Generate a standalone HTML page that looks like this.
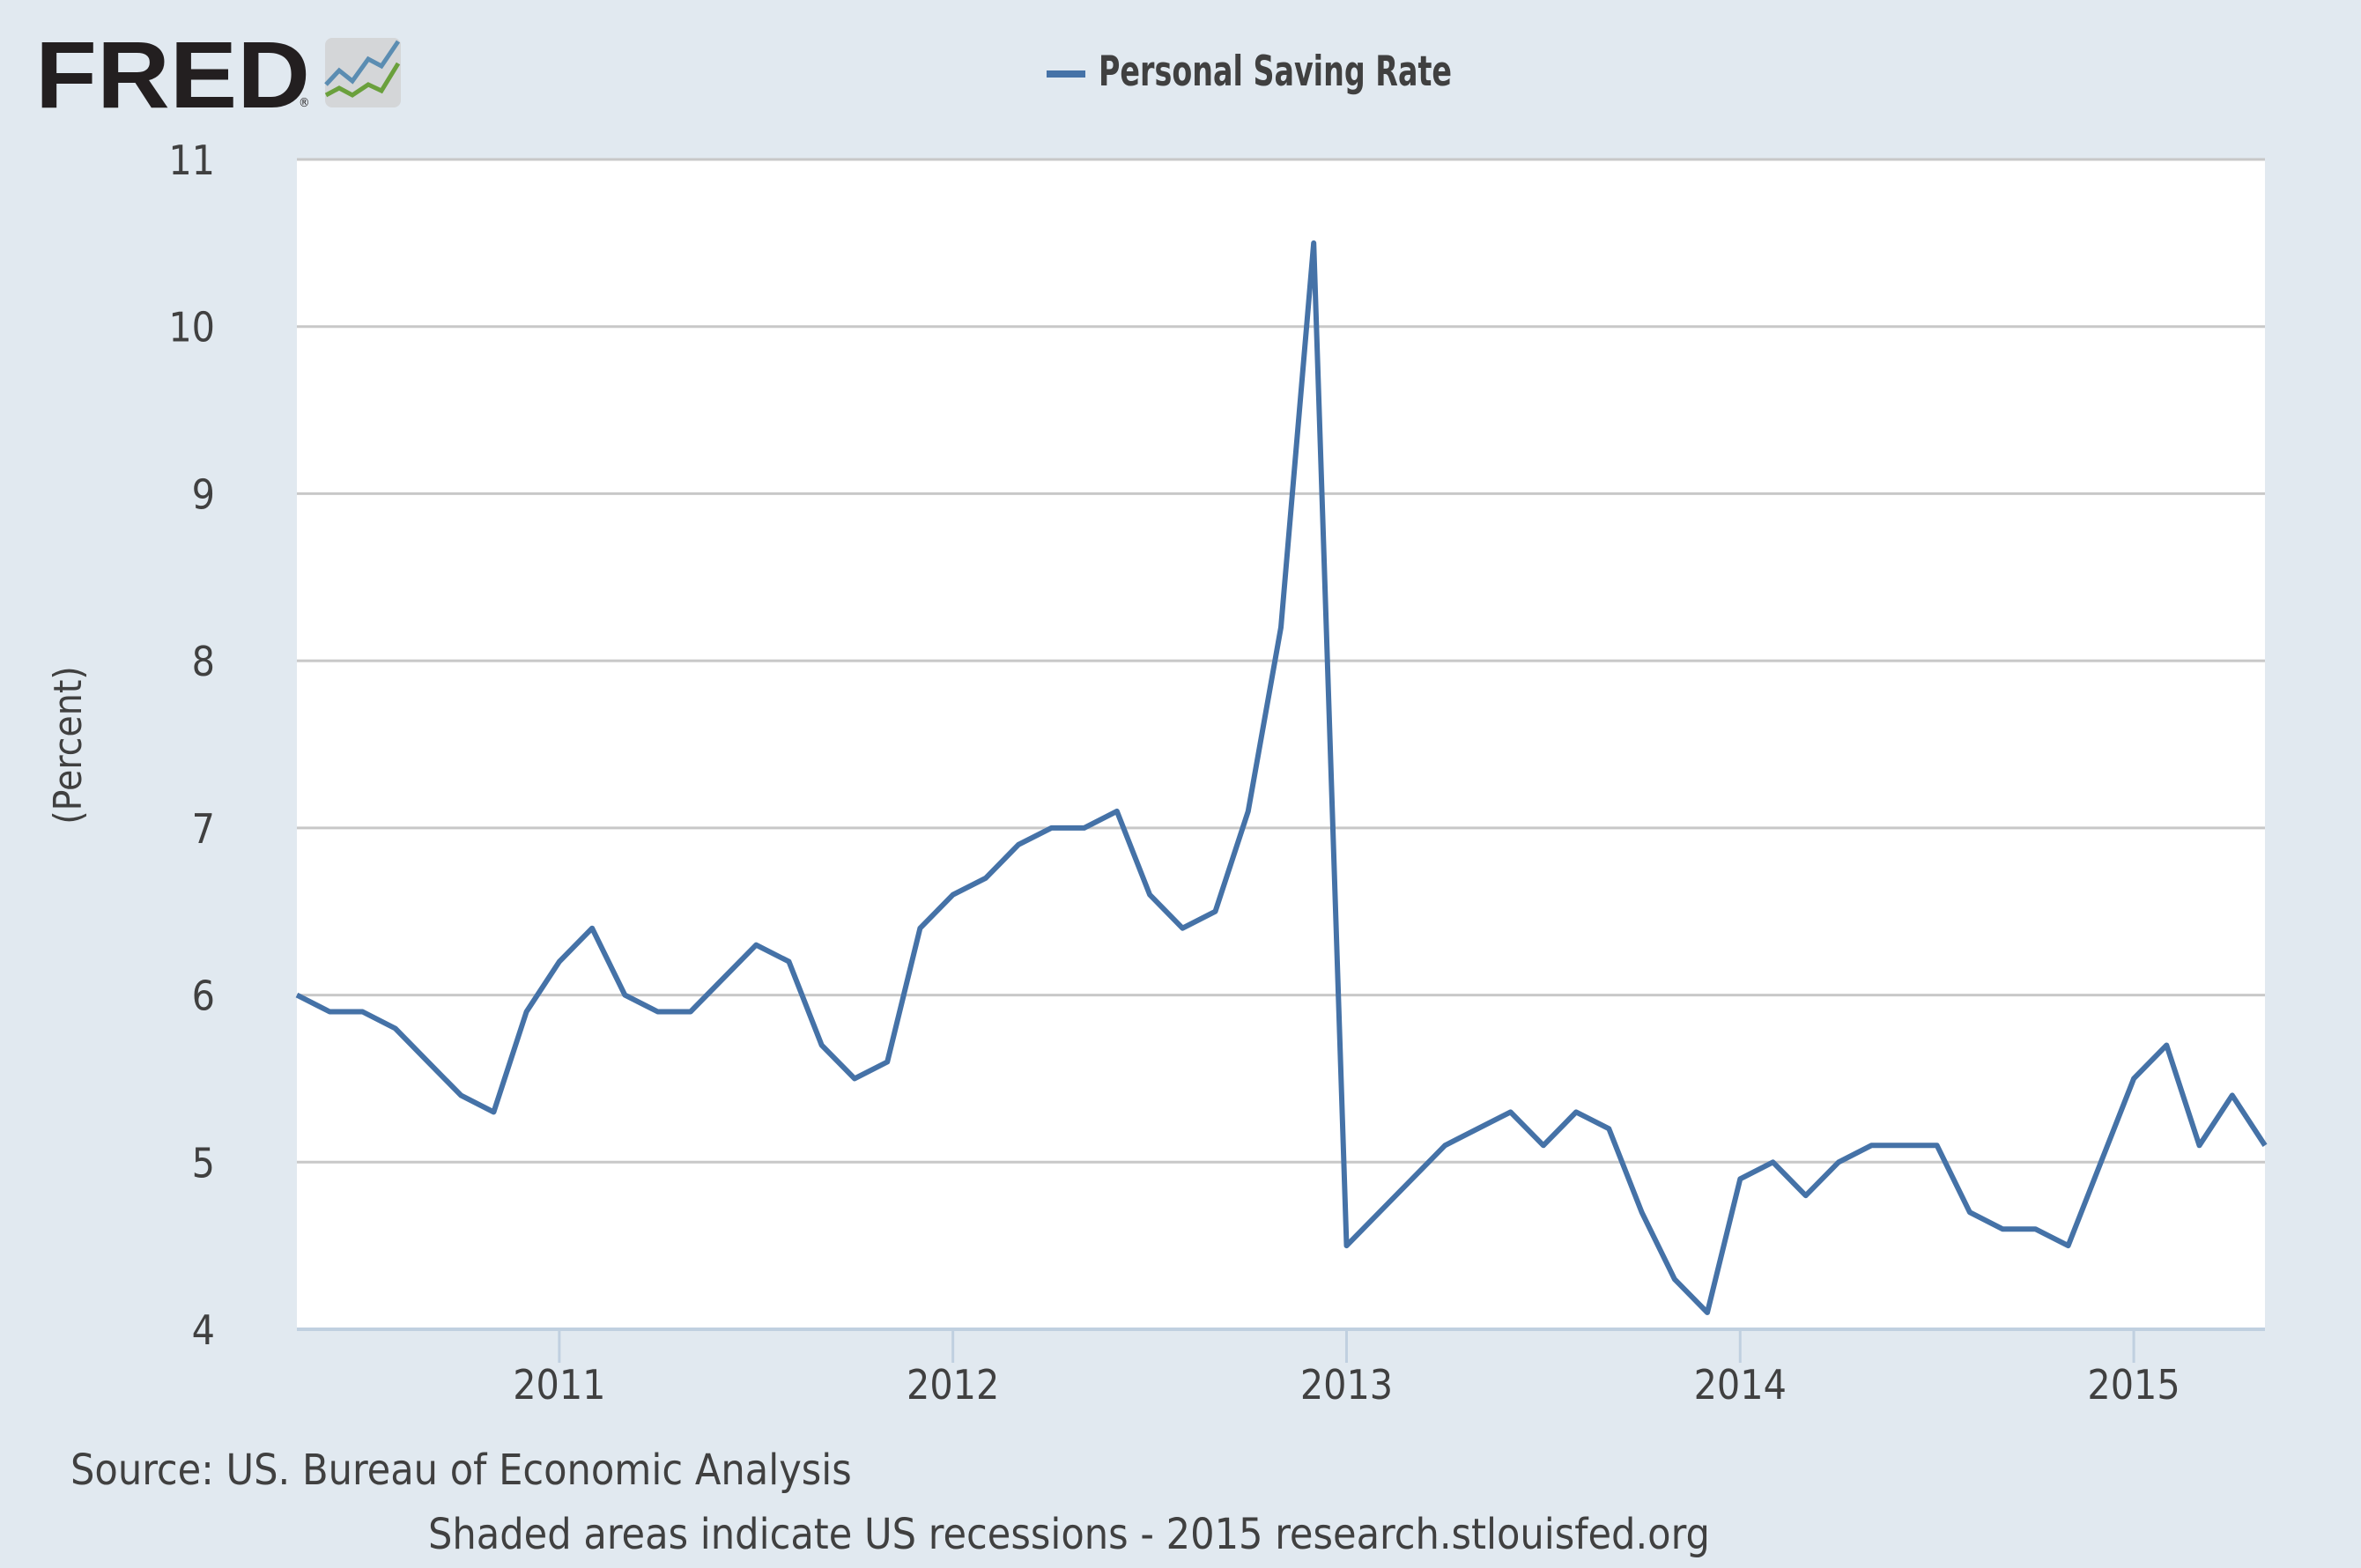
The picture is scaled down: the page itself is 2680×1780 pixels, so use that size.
<!DOCTYPE html>
<html><head><meta charset="utf-8"><style>
body{margin:0;background:#e1e9f0;}
svg{display:block;font-family:"DejaVu Sans Condensed","DejaVu Sans","Liberation Sans",sans-serif;font-stretch:condensed;}
</style></head><body>
<svg id="chart" width="2680" height="1780" viewBox="0 0 2680 1780">
<rect width="2680" height="1780" fill="#e1e9f0"/>
<g>
<text x="40" y="122" font-family="Liberation Sans, sans-serif" font-weight="bold" font-size="108" fill="#231f20" textLength="312" lengthAdjust="spacingAndGlyphs">FRED</text>
<text x="339" y="121" font-size="14" fill="#231f20">®</text>
<rect x="369" y="43" width="86" height="79" rx="8" fill="#d4d6d8"/>
<polyline points="370,96 385,80 400,92 418,67 433,75 452,47" fill="none" stroke="#5b8db2" stroke-width="5"/>
<polyline points="370,108 385,100 400,108 418,96 433,103 452,72" fill="none" stroke="#6aa03c" stroke-width="5"/>
</g>
<g>
<rect x="1188" y="80" width="44" height="8" fill="#4572a7"/>
<text x="1247" y="97" font-weight="bold" font-size="47" fill="#404040" textLength="401" lengthAdjust="spacingAndGlyphs">Personal Saving Rate</text>
</g>
<rect x="337" y="181" width="2234" height="1328" fill="#ffffff"/>
<g id="grid"></g>
<g id="yticks"></g>
<g id="xticks"></g>
<path id="series" fill="none" stroke="#4572a7" stroke-width="6" stroke-linejoin="round"/>
<text transform="translate(92,846) rotate(-90)" text-anchor="middle" font-size="44" fill="#404040">(Percent)</text>
<text x="80" y="1685" font-size="48" fill="#404040">Source: US. Bureau of Economic Analysis</text>
<text x="486" y="1758" font-size="48" fill="#404040">Shaded areas indicate US recessions - 2015 research.stlouisfed.org</text>
</svg>
<script>
const startYear = 2010, startMonth = 5;
const values = [6.0,5.9,5.9,5.8,5.6,5.4,5.3,5.9,6.2,6.4,6.0,5.9,5.9,6.1,6.3,6.2,5.7,5.5,5.6,6.4,6.6,6.7,6.9,7.0,7.0,7.1,6.6,6.4,6.5,7.1,8.2,10.5,4.5,4.7,4.9,5.1,5.2,5.3,5.1,5.3,5.2,4.7,4.3,4.1,4.9,5.0,4.8,5.0,5.1,5.1,5.1,4.7,4.6,4.6,4.5,5.0,5.5,5.7,5.1,5.4,5.1];
const yTicks = [4,5,6,7,8,9,10,11];
const xTickYears = [2011,2012,2013,2014,2015];
const NS = "http://www.w3.org/2000/svg";
const L = 337, R = 2571, T = 181, B = 1509;
const yMin = 4, yMax = 11;
const tMin = startYear + (startMonth - 1) / 12;
const tMax = tMin + (values.length - 1) / 12;
function xs(t){ return L + (t - tMin) / (tMax - tMin) * (R - L); }
function ys(v){ return B - (v - yMin) / (yMax - yMin) * (B - T); }
const grid = document.getElementById('grid'), yt = document.getElementById('yticks'), xt = document.getElementById('xticks');
yTicks.forEach(v => {
  const ln = document.createElementNS(NS, 'line');
  
  
  ln.setAttribute('x1', L); ln.setAttribute('x2', R);
  ln.setAttribute('y1', ys(v)); ln.setAttribute('y2', ys(v));
  ln.setAttribute('stroke', v === yMin ? '#c0d0e0' : '#c8c8c8');
  ln.setAttribute('stroke-width', v === yMin ? 4 : 3);
  grid.appendChild(ln);
  const tx = document.createElementNS(NS, 'text');
  
  
  tx.setAttribute('x', 244); tx.setAttribute('y', ys(v) + 17);
  tx.setAttribute('text-anchor', 'end'); tx.setAttribute('font-size', '46'); tx.setAttribute('fill', '#404040');
  tx.textContent = v;
  yt.appendChild(tx);
});
xTickYears.forEach(yr => {
  const x = xs(yr);
  const ln = document.createElementNS(NS, 'line');
  
  
  ln.setAttribute('x1', x); ln.setAttribute('x2', x);
  ln.setAttribute('y1', B); ln.setAttribute('y2', B + 38);
  ln.setAttribute('stroke', '#c0d0e0'); ln.setAttribute('stroke-width', 3);
  xt.appendChild(ln);
  const tx = document.createElementNS(NS, 'text');
  
  
  tx.setAttribute('x', x); tx.setAttribute('y', 1588);
  tx.setAttribute('text-anchor', 'middle'); tx.setAttribute('font-size', '46'); tx.setAttribute('fill', '#404040');
  tx.textContent = yr;
  xt.appendChild(tx);
});
let d = '';
values.forEach((v, i) => { d += (i ? 'L' : 'M') + xs(tMin + i / 12).toFixed(1) + ',' + ys(v).toFixed(1); });
document.getElementById('series').setAttribute('d', d);
</script>
</body></html>
